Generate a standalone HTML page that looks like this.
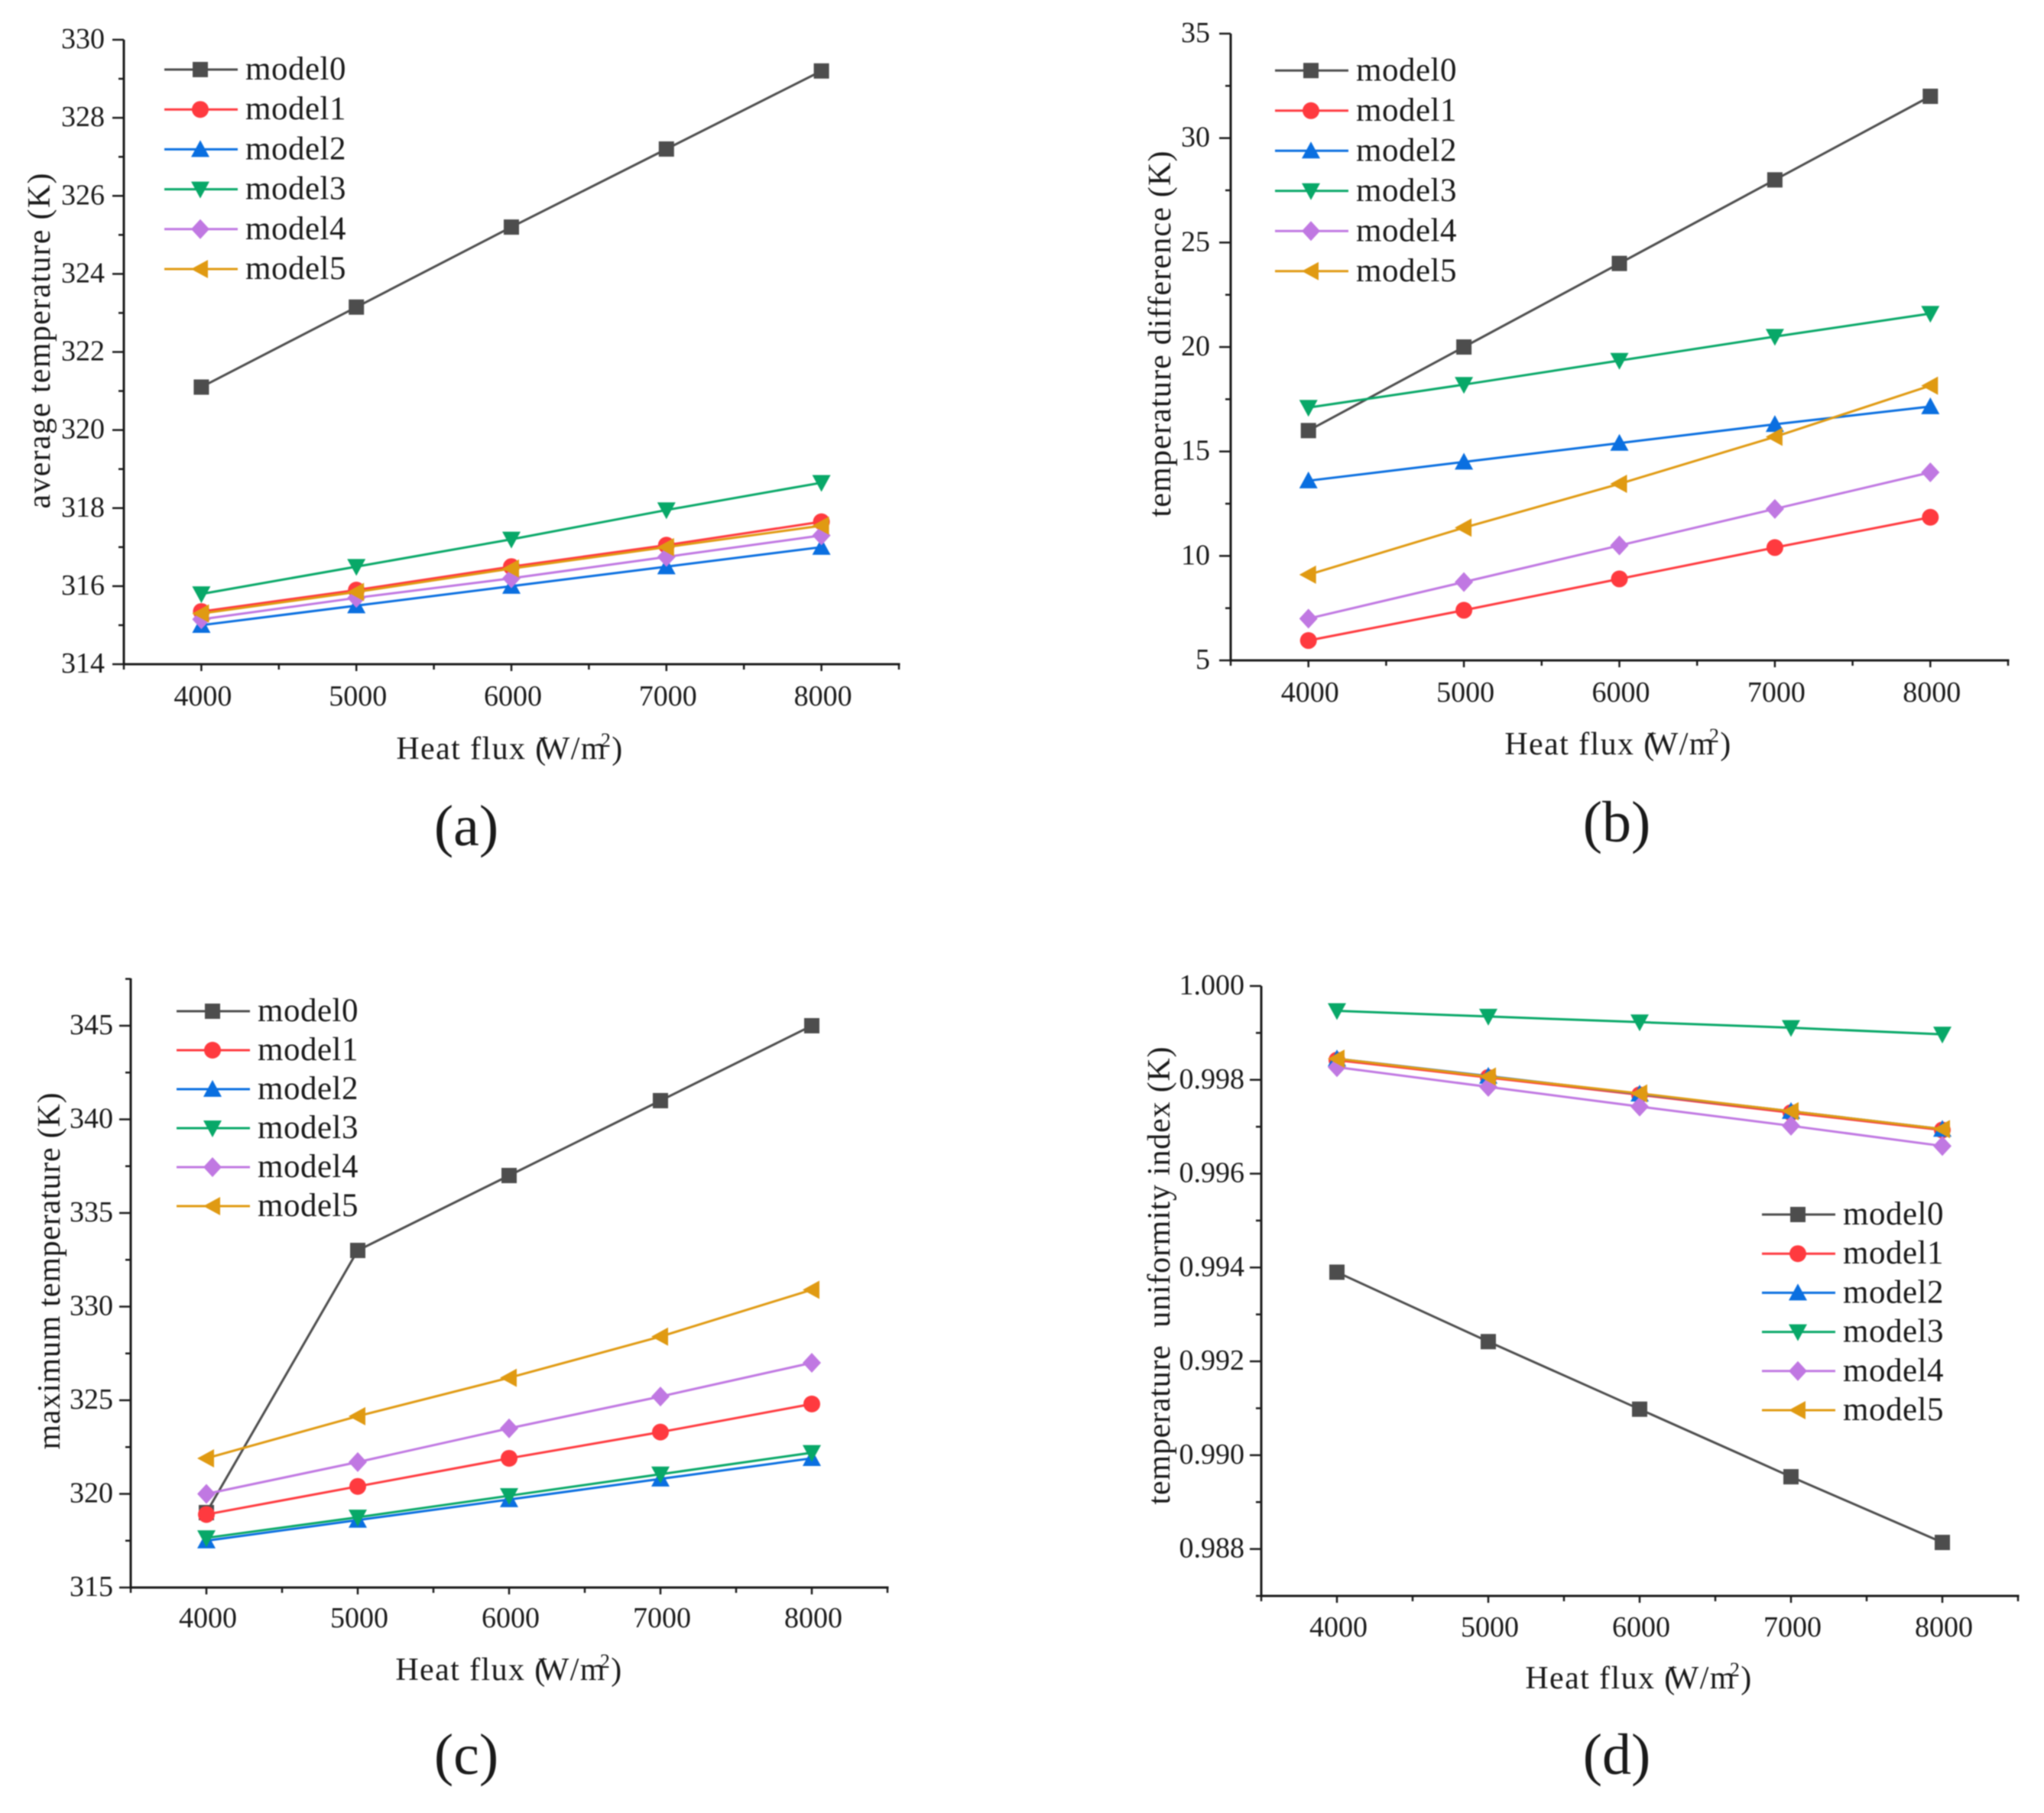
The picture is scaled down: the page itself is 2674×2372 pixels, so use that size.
<!DOCTYPE html>
<html lang="en">
<head>
<meta charset="utf-8">
<title>Heat flux charts</title>
<style>
html,body{margin:0;padding:0;background:#fff;}
svg{display:block;filter:blur(0.8px);}
text{font-family:"Liberation Serif",serif;fill:#1a1a1a;white-space:pre;}
.tick{font-size:38px;}
.leg{font-size:43px;letter-spacing:0.5px;}
.title{font-size:42px;}
.xt{letter-spacing:1.4px;}
.panel{font-size:76px;}
</style>
</head>
<body>
<svg id="fig" xmlns="http://www.w3.org/2000/svg" width="2674" height="2372" viewBox="0 0 2674 2372">
  <rect width="2674" height="2372" fill="#fff"/>
  <g id="panel-a">
    <text class="title" transform="translate(65,446) rotate(-90)" text-anchor="middle" textLength="439">average temperature (K)</text>
    <text class="title xt" x="667" y="993" text-anchor="middle">Heat flux (<tspan dx="-10">W</tspan>/<tspan>m</tspan><tspan dy="-16" font-size="26" dx="-8">2</tspan><tspan dy="16">)</tspan></text>
    <text class="panel" x="610" y="1106" text-anchor="middle">(a)</text>
  </g>
  <g id="panel-b">
    <text class="title" transform="translate(1531,437) rotate(-90)" text-anchor="middle" textLength="479">temperature difference (K)</text>
    <text class="title xt" x="2117" y="987" text-anchor="middle">Heat flux (<tspan dx="-10">W</tspan>/<tspan>m</tspan><tspan dy="-16" font-size="26" dx="-8">2</tspan><tspan dy="16">)</tspan></text>
    <text class="panel" x="2115" y="1101" text-anchor="middle">(b)</text>
  </g>
  <g id="panel-c">
    <text class="title" transform="translate(78,1663) rotate(-90)" text-anchor="middle" textLength="467">maximum temperature (K)</text>
    <text class="title xt" x="666" y="2198" text-anchor="middle">Heat flux (<tspan dx="-10">W</tspan>/<tspan>m</tspan><tspan dy="-16" font-size="26" dx="-8">2</tspan><tspan dy="16">)</tspan></text>
    <text class="panel" x="610" y="2321" text-anchor="middle">(c)</text>
  </g>
  <g id="panel-d">
    <text class="title" transform="translate(1530,1669) rotate(-90)" text-anchor="middle" textLength="599">temperature  uniformity index (K)</text>
    <text class="title xt" x="2144" y="2209" text-anchor="middle">Heat flux (<tspan dx="-10">W</tspan>/<tspan>m</tspan><tspan dy="-16" font-size="26" dx="-8">2</tspan><tspan dy="16">)</tspan></text>
    <text class="panel" x="2115" y="2321" text-anchor="middle">(d)</text>
  </g>
</svg>
<script>
// Shared categories and labels
const categories = [4000, 5000, 6000, 7000, 8000];
const seriesNames = ['model0', 'model1', 'model2', 'model3', 'model4', 'model5'];

// Panel (a): average temperature
const avgTempModel0 = [321.1, 323.15, 325.2, 327.2, 329.2];
const avgTempModel1 = [315.35, 315.9, 316.5, 317.05, 317.65];
const avgTempModel2 = [315.0, 315.5, 316.0, 316.5, 317.0];
const avgTempModel3 = [315.8, 316.5, 317.2, 317.95, 318.65];
const avgTempModel4 = [315.15, 315.7, 316.2, 316.75, 317.3];
const avgTempModel5 = [315.3, 315.85, 316.45, 317.0, 317.55];
const avgTempTicks = ['314', '316', '318', '320', '322', '324', '326', '328', '330'];

// Panel (b): temperature difference
const tempDiffModel0 = [16, 20, 24, 28, 32];
const tempDiffModel1 = [5.95, 7.4, 8.9, 10.4, 11.85];
const tempDiffModel2 = [13.6, 14.5, 15.4, 16.3, 17.15];
const tempDiffModel3 = [17.1, 18.2, 19.35, 20.5, 21.6];
const tempDiffModel4 = [7, 8.75, 10.5, 12.25, 14];
const tempDiffModel5 = [9.1, 11.35, 13.45, 15.7, 18.15];
const tempDiffTicks = ['5', '10', '15', '20', '25', '30', '35'];

// Panel (c): maximum temperature
const maxTempModel0 = [319, 333, 337, 341, 345];
const maxTempModel1 = [318.9, 320.4, 321.9, 323.3, 324.8];
const maxTempModel2 = [317.5, 318.6, 319.7, 320.8, 321.9];
const maxTempModel3 = [317.65, 318.75, 319.9, 321.05, 322.2];
const maxTempModel4 = [320, 321.7, 323.5, 325.2, 327];
const maxTempModel5 = [321.9, 324.15, 326.2, 328.4, 330.9];
const maxTempTicks = ['315', '320', '325', '330', '335', '340', '345'];

// Panel (d): temperature uniformity index
const uniformityModel0 = [0.9939, 0.99242, 0.99098, 0.98954, 0.98814];
const uniformityModel1 = [0.99842, 0.99805, 0.99768, 0.9973, 0.99693];
const uniformityModel2 = [0.99845, 0.99808, 0.9977, 0.99733, 0.99695];
const uniformityModel3 = [0.99947, 0.99935, 0.99923, 0.99911, 0.99897];
const uniformityModel4 = [0.99827, 0.99785, 0.99743, 0.99702, 0.99659];
const uniformityModel5 = [0.99845, 0.99807, 0.99771, 0.99733, 0.99695];
const uniformityTicks = ['0.988', '0.990', '0.992', '0.994', '0.996', '0.998', '1.000'];

const colors = ['#4d4d4d', '#ff3a3f', '#0a6fe0', '#08a868', '#c078e2', '#e09a12'];
const markerKinds = ['square', 'circle', 'up', 'down', 'diamond', 'left'];
const AXIS = '#1a1a1a';
const NS = 'http://www.w3.org/2000/svg';

function make(tag, attrs, parent) {
  const el = document.createElementNS(NS, tag);
  for (const k in attrs) el.setAttribute(k, attrs[k]);
  parent.appendChild(el);
  return el;
}

function drawMarker(kind, x, y, color, parent) {
  const s = 11;
  let el;
  if (kind === 'square') {
    el = make('rect', {x: x - s + 1, y: y - s + 1, width: 2 * s - 2, height: 2 * s - 2, fill: color}, parent);
  } else if (kind === 'circle') {
    el = make('circle', {cx: x, cy: y, r: s, fill: color}, parent);
  } else {
    let pts;
    if (kind === 'up') pts = [[x, y - s - 1], [x + s + 1, y + s - 1], [x - s - 1, y + s - 1]];
    if (kind === 'down') pts = [[x, y + s + 1], [x + s + 1, y - s + 1], [x - s - 1, y - s + 1]];
    if (kind === 'diamond') pts = [[x, y - s - 2], [x + s + 1, y], [x, y + s + 2], [x - s - 1, y]];
    if (kind === 'left') pts = [[x - s - 1, y], [x + s - 1, y - s - 1], [x + s - 1, y + s + 1]];
    el = make('polygon', {points: pts.map(p => p.join(',')).join(' '), fill: color}, parent);
  }
  return el;
}

function drawPanel(cfg) {
  const root = document.getElementById(cfg.id);
  const xMin = 3500, xMax = 8500;
  const xScale = v => cfg.left + (v - xMin) / (xMax - xMin) * (cfg.right - cfg.left);
  const yScale = v => cfg.bottom - (v - cfg.yMin) / (cfg.yMax - cfg.yMin) * (cfg.bottom - cfg.top);

  const axes = make('g', {}, root);
  
  

  const yAxis = make('line', {x1: cfg.left, x2: cfg.left, y1: cfg.top, y2: cfg.bottom + 1.5, stroke: AXIS, 'stroke-width': 3}, axes);
  
  
  const xAxis = make('line', {x1: cfg.left - 1.5, x2: cfg.right + 1.5, y1: cfg.bottom, y2: cfg.bottom, stroke: AXIS, 'stroke-width': 3}, axes);
  
  

  // x ticks (major at categories, minor halfway)
  for (let v = xMin; v <= xMax; v += 500) {
    const major = v % 1000 === 0;
    const t = make('line', {x1: xScale(v), x2: xScale(v), y1: cfg.bottom, y2: cfg.bottom + (major ? 9 : 7), stroke: AXIS, 'stroke-width': 2.5}, axes);
    
    
  }
  categories.forEach(c => {
    const t = make('text', {class: 'tick', x: xScale(c) + 2, y: cfg.xLabelY, 'text-anchor': 'middle'}, root);
    t.textContent = String(c);
    
    
  });

  // y ticks from printed labels; minor tick halfway between labels
  cfg.ticks.forEach((label, i) => {
    const v = parseFloat(label);
    const y = yScale(v);
    const t = make('line', {x1: cfg.left - 15, x2: cfg.left, y1: y, y2: y, stroke: AXIS, 'stroke-width': 2.5}, axes);
    
    
    const txt = make('text', {class: 'tick', x: cfg.yLabelX, y: y + 11, 'text-anchor': 'end'}, root);
    txt.textContent = label;
    
    
    const step = parseFloat(cfg.ticks[1]) - parseFloat(cfg.ticks[0]);
    [v - step / 2, v + step / 2].forEach((m, j) => {
      if (m < cfg.yMin - 1e-9 || m > cfg.yMax + 1e-9) return;
      if (j === 0 && i > 0) return;
      const my = yScale(m);
      const mt = make('line', {x1: cfg.left - 7, x2: cfg.left, y1: my, y2: my, stroke: AXIS, 'stroke-width': 2.5}, axes);
      
      
    });
  });

  // series
  cfg.series.forEach((vals, s) => {
    const g = make('g', {}, root);
    
    
    const pts = vals.map((v, i) => xScale(categories[i]) + ',' + yScale(v)).join(' ');
    const line = make('polyline', {points: pts, fill: 'none', stroke: colors[s], 'stroke-width': 3}, g);
    
    
    vals.forEach((v, i) => {
      const mark = drawMarker(markerKinds[s], xScale(categories[i]), yScale(v), colors[s], g);
      
      
    });
  });

  // legend
  const lg = make('g', {}, root);
  
  
  seriesNames.forEach((name, s) => {
    const y = cfg.legendTop + s * cfg.legendStep;
    const entry = make('g', {}, lg);
    
    
    make('line', {x1: cfg.legendX, x2: cfg.legendX + 96, y1: y, y2: y, stroke: colors[s], 'stroke-width': 3}, entry);
    drawMarker(markerKinds[s], cfg.legendX + 47, y, colors[s], entry);
    const t = make('text', {class: 'leg', x: cfg.legendX + 106, y: y + 13}, entry);
    t.textContent = name;
  });
}

drawPanel({id: 'panel-a', key: 'a', left: 162, right: 1176, top: 52, bottom: 869, yMin: 314, yMax: 330,
  ticks: avgTempTicks, xLabelY: 923, yLabelX: 137, legendX: 215, legendTop: 91, legendStep: 52.2,
  series: [avgTempModel0, avgTempModel1, avgTempModel2, avgTempModel3, avgTempModel4, avgTempModel5]});

drawPanel({id: 'panel-b', key: 'b', left: 1610, right: 2627, top: 44, bottom: 864, yMin: 5, yMax: 35,
  ticks: tempDiffTicks, xLabelY: 918, yLabelX: 1583, legendX: 1668, legendTop: 92.3, legendStep: 52.5,
  series: [tempDiffModel0, tempDiffModel1, tempDiffModel2, tempDiffModel3, tempDiffModel4, tempDiffModel5]});

drawPanel({id: 'panel-c', key: 'c', left: 171, right: 1161, top: 1280, bottom: 2077, yMin: 315, yMax: 347.53,
  ticks: maxTempTicks, xLabelY: 2129, yLabelX: 148, legendX: 231, legendTop: 1323, legendStep: 51,
  series: [maxTempModel0, maxTempModel1, maxTempModel2, maxTempModel3, maxTempModel4, maxTempModel5]});

drawPanel({id: 'panel-d', key: 'd', left: 1650, right: 2640, top: 1290, bottom: 2088, yMin: 0.987, yMax: 1.0,
  ticks: uniformityTicks, xLabelY: 2141, yLabelX: 1628, legendX: 2305, legendTop: 1589, legendStep: 51.2,
  series: [uniformityModel0, uniformityModel1, uniformityModel2, uniformityModel3, uniformityModel4, uniformityModel5]});
</script>
</body>
</html>
